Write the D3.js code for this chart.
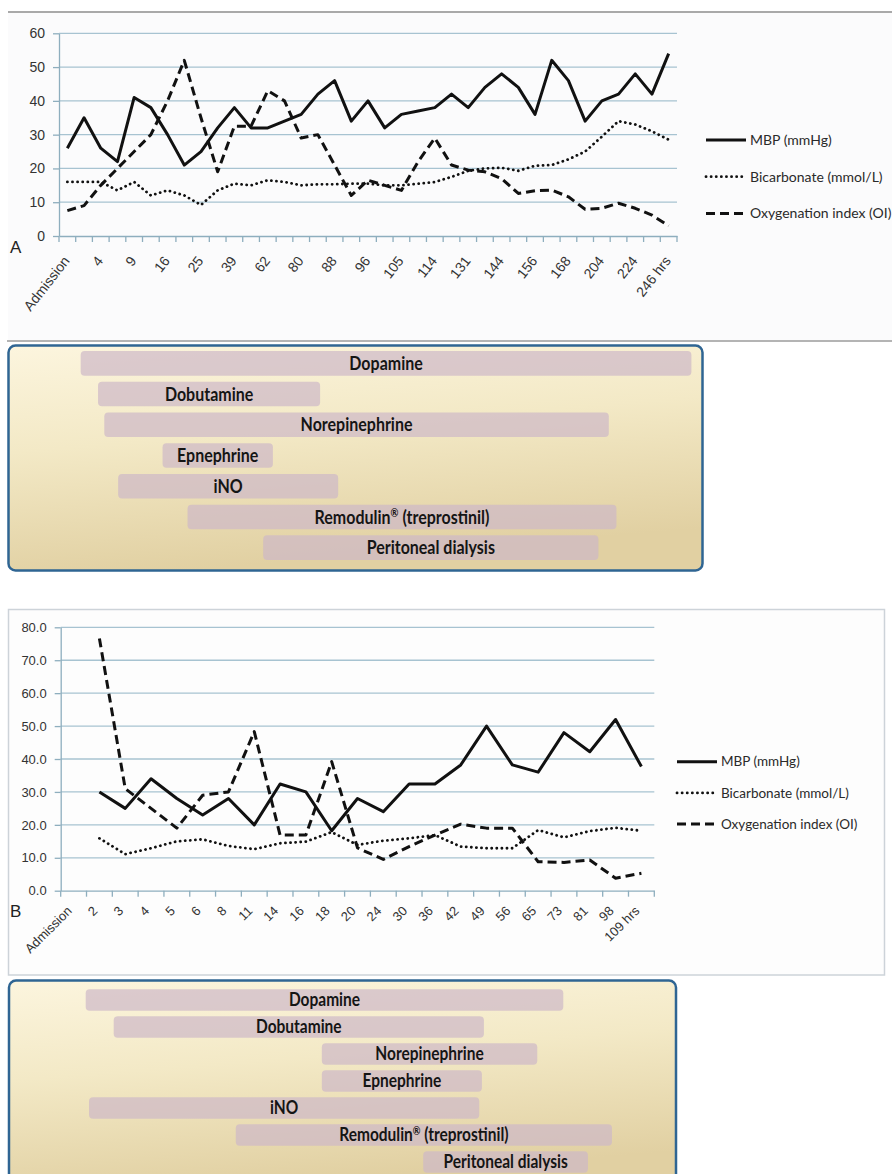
<!DOCTYPE html>
<html>
<head>
<meta charset="utf-8">
<script src="https://cdn.jsdelivr.net/npm/d3@7"></script>
<style>
  body { margin: 0; background: #fff; }
  svg { display: block; font-family: Lato, "Open Sans", sans-serif; }
</style>
</head>
<body>
<div id="d3-container"></div>
<script>
// ---- Panel A (every other category is labelled) ----
const labelsA = ["Admission", "4", "9", "16", "25", "39", "62", "80", "88", "96", "105",
  "114", "131", "144", "156", "168", "204", "224", "246 hrs"];
const mbpA = [26, 35, 26, 22, 41, 38, 30, 21, 25, 32, 38, 32, 32, 34, 36, 42, 46, 34, 40, 32,
  36, 37, 38, 42, 38, 44, 48, 44, 36, 52, 46, 34, 40, 42, 48, 42, 54];
const bicarbA = [16, 16, 16, 13.5, 16, 12, 13.5, 12, 9.2, 13.5, 15.5, 15, 16.5, 16, 15, 15.3,
  15.3, 15.5, 15.5, 15, 15, 15.5, 16, 17.5, 19.3, 20, 20.2, 19.3, 20.8, 21, 22.7, 25, 29.4,
  34, 33, 31, 28.5];
const oiA = [7.5, 9, 15, 20, 25, 30, 40, 52, 35, 19, 32.5, 32.5, 43, 40, 29, 30, 21, 12, 16.5,
  15, 13.5, 22, 29, 21, 19.5, 19, 17, 12.6, 13.4, 13.6, 11.6, 7.9, 8.2, 9.7, 8.2, 6.2, 3];
const yTicksA = [0, 10, 20, 30, 40, 50, 60];

// ---- Panel B ----
const labelsB = ["Admission", "2", "3", "4", "5", "6", "8", "11", "14", "16", "18", "20", "24",
  "30", "36", "42", "49", "56", "65", "73", "81", "98", "109 hrs"];
const mbpB = [null, 30, 25, 34, 28, 23, 28, 20, 32.4, 30, 18.2, 28, 24, 32.4, 32.4, 38.2, 50,
  38.2, 36, 48, 42.2, 52, 37.7];
const bicarbB = [null, 15.9, 11.1, 12.9, 15, 15.6, 13.6, 12.6, 14.4, 14.9, 17.8, 13.9, 15.2,
  15.9, 16.9, 13.4, 12.9, 12.9, 18.4, 16.2, 18.1, 19.1, 18.2];
const oiB = [null, 76.6, 31, 25, 19, 29, 30, 48.3, 16.9, 16.9, 39.2, 13, 9.5, 13.4, 16.9, 20.2,
  19, 19, 8.8, 8.6, 9.3, 3.8, 5.3];
const yTicksB = [0, 10, 20, 30, 40, 50, 60, 70, 80];

// ---- Therapy timelines (position along the box, 0-100) ----
const drugs = ["Dopamine", "Dobutamine", "Norepinephrine", "Epnephrine", "iNO",
  "Remodulin® (treprostinil)", "Peritoneal dialysis"];
const drugStartA = [10.4, 12.9, 13.8, 22.2, 15.8, 25.8, 36.7];
const drugEndA = [98.4, 44.9, 86.5, 38.1, 47.5, 87.6, 85.0];
const drugStartB = [11.5, 15.7, 46.9, 46.9, 12.0, 34.0, 62.1];
const drugEndB = [83.1, 71.2, 79.2, 70.9, 70.5, 90.4, 86.8];

const seriesNames = ["MBP (mmHg)", "Bicarbonate (mmol/L)", "Oxygenation index (OI)"];
const seriesStyle = [
  { dash: null, width: 3, cap: "butt" },
  { dash: "0.1,5", width: 2.8, cap: "round" },
  { dash: "9,5", width: 3, cap: "butt" }
];

const width = 892, height = 1174;
const gridColor = "#a7c3d1", axisColor = "#8eaebe", tickText = "#333";

const svg = d3.select("#d3-container")
  .append("svg")
  .attr("width", width)
  .attr("height", height);

const defs = svg.append("defs");
const grad = defs.append("linearGradient")
  .attr("id", "boxfill")
  .attr("x1", 0).attr("y1", 0).attr("x2", 0.25).attr("y2", 1);
grad.append("stop").attr("offset", 0).attr("stop-color", "#fcf5de");
grad.append("stop").attr("offset", 0.45).attr("stop-color", "#f3e9c6");
grad.append("stop").attr("offset", 1).attr("stop-color", "#e1d0a2");

// frames
svg.append("rect")
  .attr("x", 8).attr("y", 12).attr("width", 884).attr("height", 329)
  .attr("fill", "#fbfbfc");
svg.append("line")
  .attr("x1", 8).attr("x2", 892).attr("y1", 12).attr("y2", 12)
  .attr("stroke", "#a9a9a9").attr("stroke-width", 2);
svg.append("line")
  .attr("x1", 7).attr("x2", 892).attr("y1", 341).attr("y2", 341)
  .attr("stroke", "#b4b4b4").attr("stroke-width", 2);
svg.append("rect")
  .attr("x", 8.5).attr("y", 609.5).attr("width", 876).attr("height", 365.5)
  .attr("fill", "#fdfdfd")
  .attr("stroke", "#cdd3d9").attr("stroke-width", 1.5);

function drawPanel(o) {
  const n = o.series[0].length;
  const xScale = d3.scaleBand()
    .domain(d3.range(n))
    .range([o.left, o.right]);
  const yScale = d3.scaleLinear()
    .domain([0, d3.max(o.yTicks)])
    .range([o.bottom, o.top]);

  const g = svg.append("g");

  // gridlines
  g.selectAll("line.grid")
    .data(o.yTicks.filter(d => d > 0))
    .join("line")
    .attr("class", "grid")
    .attr("x1", o.left).attr("x2", o.right)
    .attr("y1", d => yScale(d)).attr("y2", d => yScale(d))
    .attr("stroke", gridColor).attr("stroke-width", 1.3);

  // y axis
  const yAxisGroup = g.append("g")
    .attr("transform", `translate(${o.left},0)`)
    .call(d3.axisLeft(yScale)
      .tickValues(o.yTicks)
      .tickSize(6)
      .tickSizeOuter(0)
      .tickPadding(8)
      .tickFormat(o.yFormat));
  yAxisGroup.select(".domain").attr("stroke", axisColor).attr("stroke-width", 1.3);
  yAxisGroup.selectAll(".tick line").attr("stroke", axisColor).attr("stroke-width", 1.3);
  yAxisGroup.selectAll("text")
    .attr("fill", tickText)
    .attr("font-size", o.fontSize);

  // x axis
  const xAxisGroup = g.append("g")
    .attr("transform", `translate(0,${o.bottom})`)
    .call(d3.axisBottom(xScale)
      .tickSize(0)
      .tickSizeOuter(0)
      .tickFormat(o.xFormat));
  xAxisGroup.select(".domain").attr("stroke", axisColor).attr("stroke-width", 1.3);
  xAxisGroup.selectAll("text")
    .attr("x", 0).attr("y", 0).attr("dy", null)
    .attr("transform", o.labelTransform)
    .style("text-anchor", "end")
    .attr("fill", tickText)
    .attr("font-size", o.fontSize);

  g.selectAll("line.xtick")
    .data(d3.range(n + 1))
    .join("line")
    .attr("class", "xtick")
    .attr("x1", i => o.left + i * xScale.step())
    .attr("x2", i => o.left + i * xScale.step())
    .attr("y1", o.bottom).attr("y2", o.bottom + 6)
    .attr("stroke", axisColor).attr("stroke-width", 1.3);

  // series
  const lineFunction = d3.line()
    .defined(d => d != null)
    .x((d, i) => xScale(i) + xScale.bandwidth() / 2)
    .y(d => yScale(d));

  g.selectAll("path.series")
    .data(o.series)
    .join("path")
    .attr("class", "series")
    .attr("d", d => lineFunction(d))
    .attr("fill", "none")
    .attr("stroke", "#111")
    .attr("stroke-width", (d, i) => seriesStyle[i].width)
    .attr("stroke-linecap", (d, i) => seriesStyle[i].cap)
    .attr("stroke-linejoin", "round")
    .attr("stroke-dasharray", (d, i) => seriesStyle[i].dash);

  // legend
  const leg = g.selectAll("g.leg")
    .data(seriesNames)
    .join("g")
    .attr("class", "leg")
    .attr("transform", (d, i) => `translate(${o.legX},${o.legY + i * o.legStep})`);
  leg.append("line")
    .attr("x1", 0).attr("x2", o.legLen)
    .attr("stroke", "#111")
    .attr("stroke-width", (d, i) => seriesStyle[i].width)
    .attr("stroke-linecap", (d, i) => seriesStyle[i].cap)
    .attr("stroke-dasharray", (d, i) => seriesStyle[i].dash);
  leg.append("text")
    .attr("x", o.legLen + 4)
    .attr("dy", "0.35em")
    .attr("font-size", o.legFont)
    .attr("fill", "#2a2a2a")
    .text(d => d);

  svg.append("text")
    .attr("x", o.letterX).attr("y", o.letterY)
    .attr("font-family", "'Liberation Sans', Arial, sans-serif")
    .attr("font-size", 17)
    .attr("fill", "#222")
    .text(o.letter);
}

function drawDrugs(o) {
  const xScale = d3.scaleLinear()
    .domain([0, 100])
    .range([o.x, o.x + o.w]);
  const yScale = d3.scaleBand()
    .domain(drugs)
    .range([o.rowTop, o.rowBottom])
    .paddingInner(0.2)
    .paddingOuter(0.1);

  svg.append("rect")
    .attr("x", o.x).attr("y", o.y)
    .attr("width", o.w).attr("height", o.h)
    .attr("rx", 7)
    .attr("fill", "url(#boxfill)")
    .attr("stroke", "#2f6593")
    .attr("stroke-width", 2.5);

  const rows = svg.selectAll(null)
    .data(drugs)
    .join("g");
  rows.append("rect")
    .attr("x", (d, i) => xScale(o.start[i]))
    .attr("y", d => yScale(d))
    .attr("width", (d, i) => xScale(o.end[i]) - xScale(o.start[i]))
    .attr("height", yScale.bandwidth())
    .attr("rx", 4)
    .attr("fill", "#cdb8c8")
    .attr("opacity", 0.7);
  // labels are a little taller than wide in the original, stretch them slightly
  const labels = rows.append("text")
    .attr("transform", (d, i) =>
      `translate(${(xScale(o.start[i]) + xScale(o.end[i])) / 2},${yScale(d) + yScale.bandwidth() / 2}) scale(1,1.18)`)
    .attr("dy", "0.35em")
    .attr("text-anchor", "middle")
    .attr("font-weight", "bold")
    .attr("font-size", o.fontSize)
    .attr("fill", "#151515");
  // registered sign drawn as a small superscript
  labels.each(function (d) {
    const parts = d.split("®");
    const t = d3.select(this);
    t.append("tspan").text(parts[0]);
    if (parts.length > 1) {
      t.append("tspan")
        .attr("font-size", o.fontSize * 0.6)
        .attr("dy", "-0.55em")
        .text("®");
      t.append("tspan")
        .attr("dy", "0.33em")
        .text(parts[1]);
    }
  });
}

drawPanel({
  series: [mbpA, bicarbA, oiA],
  yTicks: yTicksA,
  yFormat: d3.format("d"),
  xFormat: i => (i % 2 === 0 ? labelsA[i / 2] : ""),
  left: 59, right: 677, top: 33.3, bottom: 236,
  labelTransform: "translate(3,25) rotate(-52)",
  fontSize: 14,
  legX: 706, legY: 140, legStep: 36.7, legLen: 40, legFont: 14,
  letter: "A", letterX: 10, letterY: 253
});

drawPanel({
  series: [mbpB, bicarbB, oiB],
  yTicks: yTicksB,
  yFormat: d3.format(".1f"),
  xFormat: i => labelsB[i],
  left: 60.7, right: 654.3, top: 627.3, bottom: 890.7,
  labelTransform: "translate(-1,21) rotate(-45)",
  fontSize: 13,
  legX: 677, legY: 761.7, legStep: 31.2, legLen: 40, legFont: 13.5,
  letter: "B", letterX: 10, letterY: 917
});

drawDrugs({
  x: 8.5, y: 345.5, w: 694, h: 225,
  rowTop: 348, rowBottom: 563,
  start: drugStartA, end: drugEndA,
  fontSize: 16
});

drawDrugs({
  x: 9, y: 980.5, w: 667, h: 210,
  rowTop: 986.5, rowBottom: 1175.5,
  start: drugStartB, end: drugEndB,
  fontSize: 15.5
});
</script>
</body>
</html>
